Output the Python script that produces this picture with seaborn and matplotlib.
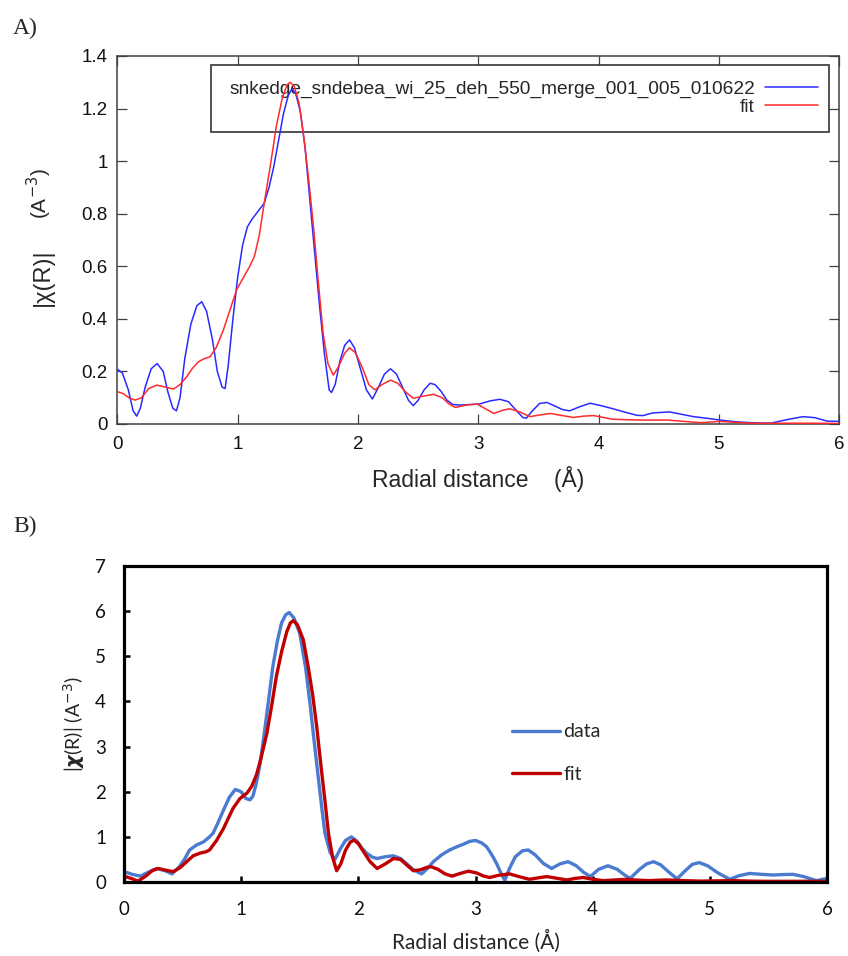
import matplotlib
matplotlib.use("Agg")
import matplotlib.pyplot as plt
from matplotlib.ticker import FuncFormatter, MultipleLocator
from matplotlib.patches import Rectangle
import seaborn as sns
import pandas as pd

# ---------------- Panel A data ----------------
a_data_r = [0.00, 0.04, 0.09, 0.13, 0.16, 0.19, 0.23, 0.28, 0.33, 0.38, 0.42, 0.46, 0.49, 0.52, 0.56,
            0.61, 0.66, 0.70, 0.74, 0.79, 0.83, 0.87, 0.895, 0.92, 0.96, 1.00, 1.04, 1.08, 1.12, 1.17,
            1.22, 1.26, 1.30, 1.34, 1.38, 1.42, 1.45, 1.48, 1.52, 1.56, 1.60, 1.64, 1.68, 1.72, 1.76,
            1.78, 1.81, 1.85, 1.89, 1.93, 1.97, 2.02, 2.07, 2.12, 2.17, 2.22, 2.27, 2.32, 2.37, 2.42,
            2.46, 2.50, 2.55, 2.60, 2.64, 2.69, 2.74, 2.79, 2.85, 2.93, 3.01, 3.10, 3.18, 3.25, 3.32,
            3.37, 3.40, 3.45, 3.51, 3.57, 3.63, 3.70, 3.76, 3.84, 3.93, 4.02, 4.12, 4.22, 4.32, 4.37,
            4.45, 4.59, 4.70, 4.79, 4.90, 5.01, 5.13, 5.26, 5.43, 5.55, 5.70, 5.80, 5.90, 6.00]
a_data_chi = [0.208, 0.195, 0.13, 0.05, 0.03, 0.06, 0.14, 0.21, 0.23, 0.20, 0.12, 0.06, 0.05, 0.10, 0.25,
              0.38, 0.45, 0.465, 0.43, 0.32, 0.20, 0.14, 0.135, 0.22, 0.40, 0.56, 0.68, 0.75, 0.78, 0.81,
              0.84, 0.90, 0.98, 1.08, 1.18, 1.25, 1.275, 1.26, 1.19, 1.05, 0.85, 0.65, 0.45, 0.27, 0.13,
              0.12, 0.15, 0.24, 0.30, 0.32, 0.29, 0.21, 0.13, 0.095, 0.14, 0.19, 0.21, 0.19, 0.14, 0.09,
              0.07, 0.09, 0.13, 0.155, 0.15, 0.125, 0.09, 0.074, 0.072, 0.074, 0.076, 0.088, 0.094, 0.085, 0.05,
              0.025, 0.022, 0.05, 0.078, 0.082, 0.07, 0.055, 0.05, 0.065, 0.079, 0.07, 0.058, 0.045, 0.033, 0.032,
              0.042, 0.046, 0.036, 0.028, 0.022, 0.015, 0.009, 0.005, 0.003, 0.015, 0.028, 0.024, 0.011, 0.01]

a_fit_r = [0.00, 0.05, 0.10, 0.147, 0.20, 0.26, 0.327, 0.40, 0.465, 0.52, 0.576, 0.62, 0.673, 0.72, 0.77,
           0.82, 0.88, 0.94, 0.99, 1.05, 1.10, 1.14, 1.18, 1.22, 1.27, 1.32, 1.37, 1.41, 1.435, 1.47,
           1.51, 1.55, 1.59, 1.63, 1.67, 1.71, 1.75, 1.795, 1.84, 1.89, 1.93, 1.98, 2.04, 2.09, 2.14,
           2.20, 2.27, 2.33, 2.40, 2.46, 2.53, 2.63, 2.70, 2.76, 2.81, 2.90, 2.99, 3.06, 3.13, 3.20,
           3.26, 3.35, 3.43, 3.52, 3.60, 3.70, 3.79, 3.88, 3.96, 4.04, 4.12, 4.35, 4.57, 4.85, 5.01,
           5.26, 5.81, 6.00]
a_fit_chi = [0.123, 0.115, 0.098, 0.091, 0.10, 0.135, 0.148, 0.14, 0.133, 0.15, 0.18, 0.21, 0.237, 0.248, 0.256,
             0.29, 0.357, 0.44, 0.51, 0.56, 0.60, 0.64, 0.72, 0.84, 0.98, 1.13, 1.24, 1.29, 1.30, 1.285,
             1.22, 1.09, 0.93, 0.75, 0.54, 0.345, 0.23, 0.186, 0.22, 0.27, 0.29, 0.27, 0.21, 0.15, 0.13,
             0.15, 0.167, 0.155, 0.12, 0.098, 0.105, 0.113, 0.10, 0.075, 0.063, 0.072, 0.076, 0.058, 0.04, 0.052,
             0.058, 0.045, 0.028, 0.035, 0.04, 0.032, 0.025, 0.03, 0.032, 0.025, 0.018, 0.015, 0.015, 0.005, 0.01,
             0.003, 0.003, 0.002]

a_legend_labels = ["snkedge_sndebea_wi_25_deh_550_merge_001_005_010622", "fit"]

# ---------------- Panel B data ----------------
b_data_r = [0.00, 0.07, 0.14, 0.21, 0.28, 0.35, 0.41, 0.47, 0.52, 0.56, 0.62, 0.68, 0.73, 0.76, 0.80,
            0.85, 0.90, 0.95, 1.00, 1.04, 1.075, 1.10, 1.13, 1.16, 1.19, 1.23, 1.27, 1.31, 1.345, 1.38,
            1.41, 1.45, 1.50, 1.55, 1.59, 1.615, 1.65, 1.69, 1.715, 1.76, 1.80, 1.85, 1.89, 1.94, 1.99,
            2.03, 2.07, 2.12, 2.16, 2.23, 2.30, 2.36, 2.41, 2.47, 2.54, 2.59, 2.64, 2.71, 2.78, 2.84,
            2.90, 2.95, 3.00, 3.05, 3.095, 3.14, 3.18, 3.22, 3.25, 3.29, 3.34, 3.40, 3.45, 3.51, 3.58,
            3.65, 3.72, 3.79, 3.86, 3.92, 3.98, 4.05, 4.13, 4.21, 4.27, 4.32, 4.40, 4.46, 4.52, 4.58,
            4.65, 4.72, 4.79, 4.85, 4.91, 4.98, 5.07, 5.17, 5.25, 5.34, 5.44, 5.54, 5.62, 5.71, 5.80,
            5.91, 6.00]
b_data_chi = [0.23, 0.17, 0.13, 0.22, 0.30, 0.25, 0.18, 0.33, 0.52, 0.71, 0.82, 0.89, 1.00, 1.08, 1.30,
              1.60, 1.88, 2.05, 2.00, 1.85, 1.82, 1.90, 2.19, 2.60, 3.15, 3.95, 4.77, 5.35, 5.74, 5.92,
              5.97, 5.85, 5.51, 4.75, 3.90, 3.30, 2.50, 1.60, 1.08, 0.65, 0.50, 0.75, 0.92, 1.00, 0.90,
              0.75, 0.64, 0.55, 0.52, 0.56, 0.58, 0.52, 0.41, 0.27, 0.18, 0.30, 0.45, 0.60, 0.71, 0.78,
              0.84, 0.90, 0.92, 0.87, 0.78, 0.60, 0.41, 0.18, 0.04, 0.30, 0.56, 0.69, 0.71, 0.60, 0.41,
              0.30, 0.40, 0.45, 0.36, 0.22, 0.12, 0.28, 0.36, 0.28, 0.16, 0.08, 0.28, 0.40, 0.45, 0.38,
              0.22, 0.07, 0.25, 0.39, 0.43, 0.36, 0.20, 0.06, 0.14, 0.19, 0.17, 0.155, 0.165, 0.17, 0.12,
              0.03, 0.08]

b_fit_r = [0.00, 0.06, 0.12, 0.18, 0.24, 0.29, 0.36, 0.42, 0.48, 0.535, 0.59, 0.65, 0.70, 0.73, 0.79,
           0.85, 0.93, 0.99, 1.05, 1.09, 1.13, 1.17, 1.22, 1.26, 1.30, 1.345, 1.39, 1.42, 1.445, 1.48,
           1.53, 1.57, 1.61, 1.645, 1.68, 1.715, 1.745, 1.78, 1.815, 1.85, 1.89, 1.93, 1.96, 2.00, 2.05,
           2.10, 2.16, 2.23, 2.30, 2.36, 2.42, 2.47, 2.53, 2.58, 2.62, 2.68, 2.74, 2.80, 2.87, 2.94,
           3.01, 3.07, 3.12, 3.20, 3.29, 3.37, 3.46, 3.53, 3.61, 3.70, 3.78, 3.85, 3.92, 4.00, 4.09,
           4.19, 4.29, 4.39, 4.49, 4.56, 4.63, 4.78, 4.92, 5.05, 5.20, 5.34, 5.48, 6.00]
b_fit_chi = [0.13, 0.08, 0.02, 0.12, 0.25, 0.30, 0.26, 0.23, 0.32, 0.45, 0.58, 0.64, 0.67, 0.71, 0.92,
             1.19, 1.63, 1.85, 1.97, 2.12, 2.37, 2.75, 3.30, 3.90, 4.55, 5.10, 5.55, 5.74, 5.79, 5.70,
             5.37, 4.80, 4.15, 3.44, 2.60, 1.80, 1.08, 0.55, 0.25, 0.40, 0.70, 0.88, 0.93, 0.85, 0.65,
             0.45, 0.30, 0.40, 0.52, 0.50, 0.36, 0.25, 0.27, 0.32, 0.34, 0.28, 0.18, 0.13, 0.19, 0.24,
             0.20, 0.13, 0.10, 0.15, 0.18, 0.12, 0.06, 0.09, 0.12, 0.08, 0.045, 0.08, 0.10, 0.06, 0.03,
             0.045, 0.06, 0.04, 0.03, 0.04, 0.045, 0.03, 0.02, 0.025, 0.03, 0.02, 0.015, 0.015]

b_legend_labels = ["data", "fit"]

# ---------------- Figure ----------------
sns.set_theme(style="white")
plt.rcParams["mathtext.fontset"] = "dejavusans"

fig = plt.figure(figsize=(8.48, 9.56), dpi=100)
W, H = 848.0, 956.0

def fx(px):
    return px / W

def fy(py):
    return 1 - py / H

# ----- Panel A -----
A_FONT = "Liberation Sans"
axA = fig.add_axes([fx(117.5), fy(424), fx(839) - fx(117.5), fy(56) - fy(424)])
sns.lineplot(x=a_data_r, y=a_data_chi, ax=axA, color="#2a2aff", linewidth=1.1,
             label=a_legend_labels[0], estimator=None, sort=False, zorder=3)
sns.lineplot(x=a_fit_r, y=a_fit_chi, ax=axA, color="#ff2a2a", linewidth=1.1,
             label=a_legend_labels[1], estimator=None, sort=False, zorder=3)
axA.set_xlim(0, 6)
axA.set_ylim(0, 1.4)
axA.xaxis.set_major_locator(MultipleLocator(1))
axA.yaxis.set_major_locator(MultipleLocator(0.2))
fmt = FuncFormatter(lambda v, p: f"{v:g}")
axA.xaxis.set_major_formatter(fmt)
axA.yaxis.set_major_formatter(fmt)
for s in axA.spines.values():
    s.set_visible(True)
    s.set_color("#404040")
    s.set_linewidth(1.1)
axA.tick_params(axis="both", which="major", direction="in", length=7.5, width=0.9,
                color="#404040", top=True, right=True, bottom=True, left=True,
                labelsize=13.5, labelcolor="#111111")
axA.tick_params(axis="x", pad=9)
axA.tick_params(axis="y", pad=7)
for lab in axA.get_xticklabels() + axA.get_yticklabels():
    lab.set_fontfamily(A_FONT)
axA.set_xlabel("Radial distance    (\u00c5)", fontsize=16.5, fontfamily=A_FONT, labelpad=9)
axA.set_ylabel("")
fig.text(fx(43), fy(277), "|\u03c7(R)|", rotation=90, ha="center", va="center",
         fontsize=17, fontfamily=A_FONT)
fig.text(fx(39), fy(194), "(A$^{-3}$)", rotation=90, ha="center", va="center",
         fontsize=15, fontfamily=A_FONT)

legA = axA.legend(loc="upper right", bbox_to_anchor=((818 - 117.5) / 721.5, (424 - 80) / 368.0),
                  frameon=False, markerfirst=False, borderpad=0, borderaxespad=0,
                  handlelength=2.75, handletextpad=0.55, labelspacing=0.05,
                  prop={"family": A_FONT, "size": 13.75})
axA.add_patch(Rectangle(((211 - 117.5) / 721.5, (424 - 132) / 368.0),
                        (829 - 211) / 721.5, (132 - 65) / 368.0,
                        transform=axA.transAxes, fill=True, facecolor="white",
                        edgecolor="#333333", linewidth=1.2, zorder=1.5))
legA.set_zorder(2.5)

fig.text(fx(13), fy(34), "A)", fontsize=17, fontfamily="Liberation Serif", ha="left", va="baseline")
fig.text(fx(13), fy(532), "B)", fontsize=17, fontfamily="Liberation Serif", ha="left", va="baseline")

# ----- Panel B -----
B_FONT = "Lato"
axB = fig.add_axes([fx(124), fy(882), fx(827) - fx(124), fy(566) - fy(882)])
sns.lineplot(x=b_data_r, y=b_data_chi, ax=axB, color="#4a7bd0", linewidth=2.4,
             label=b_legend_labels[0], estimator=None, sort=False)
sns.lineplot(x=b_fit_r, y=b_fit_chi, ax=axB, color="#c00000", linewidth=2.4,
             label=b_legend_labels[1], estimator=None, sort=False)
axB.set_xlim(0, 6)
axB.set_ylim(0, 7)
axB.xaxis.set_major_locator(MultipleLocator(1))
axB.yaxis.set_major_locator(MultipleLocator(1))
axB.xaxis.set_major_formatter(fmt)
axB.yaxis.set_major_formatter(fmt)
for s in axB.spines.values():
    s.set_visible(True)
    s.set_color("black")
    s.set_linewidth(2.3)
axB.tick_params(axis="both", which="major", direction="in", length=4, width=1.8,
                color="black", top=False, right=False, bottom=True, left=True,
                labelsize=13.5, labelcolor="#111111")
axB.tick_params(axis="x", pad=14)
axB.tick_params(axis="y", pad=13)
for lab in axB.get_xticklabels() + axB.get_yticklabels():
    lab.set_fontfamily(B_FONT)
axB.set_xlabel("Radial distance (\u00c5)", fontsize=15, fontfamily=B_FONT, labelpad=8)
axB.set_ylabel(r"|$\boldsymbol{\chi}$(R)| (A$^{-3}$)", fontsize=14, fontfamily=B_FONT, labelpad=6)

axB.legend(loc="center left", bbox_to_anchor=((512 - 124) / 703.0, (882 - 753) / 316.0),
           frameon=False, borderpad=0, borderaxespad=0, handlelength=2.45, handletextpad=0.2,
           labelspacing=1.3, prop={"family": B_FONT, "size": 14})

fig.savefig("out.png", dpi=100)
